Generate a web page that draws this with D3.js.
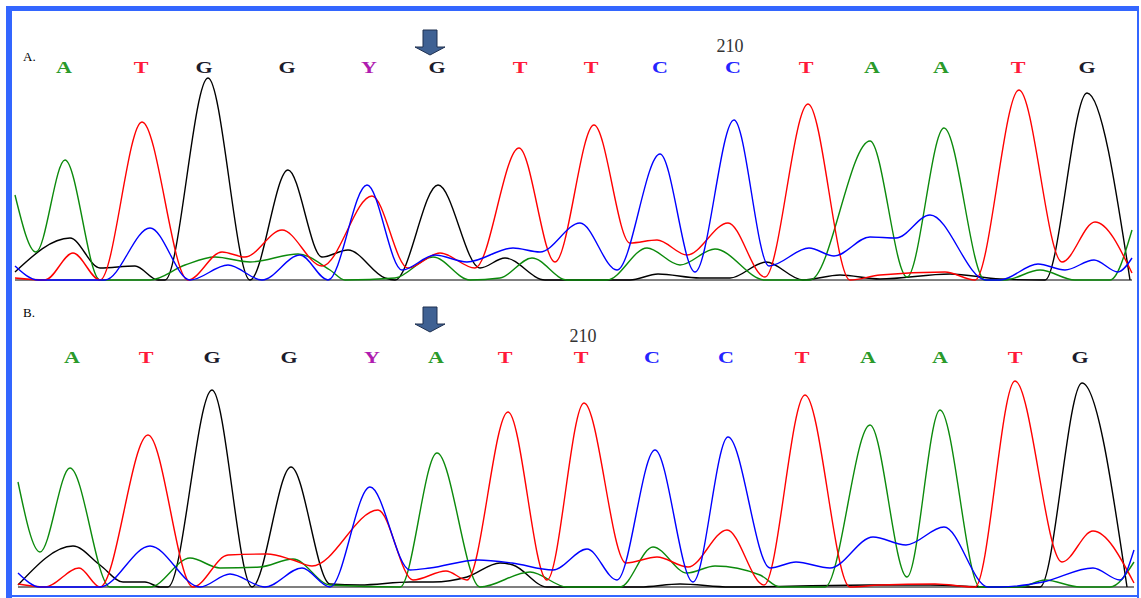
<!DOCTYPE html>
<html>
<head>
<meta charset="utf-8">
<script src="https://cdn.jsdelivr.net/npm/d3@7"></script>
<style>
  body { margin: 0; background: #fff; }
  svg { display: block; }
</style>
</head>
<body>
<div id="chart"></div>
<script>
// Base calls and their scan positions
const basesA = ['A','T','G','G','Y','G','T','T','C','C','T','A','A','T','G'];
const basePosA = [64, 141, 204, 287, 369, 437, 520, 591, 660, 733, 806, 872, 941, 1018, 1087];
const basesB = ['A','T','G','G','Y','A','T','T','C','C','T','A','A','T','G'];
const basePosB = [72, 146, 212, 289, 372, 436, 505, 581, 652, 726, 802, 868, 940, 1015, 1080];
const labelA = 'A.';
const labelB = 'B.';
const posLabel = '210';
const posLabelScanA = 730;
const posLabelScanB = 583;
const markerScan = 430;

// Trace points [scan, intensity] for panel A
const greenA = [[15,85],[36,28],[65,120],[100,0],[150,0],[185,15],[215,23],[250,18],[298,26],[330,10],[345,0],[395,2],[433,23],[470,0],[500,2],[532,22],[567,0],[607,0],[647,32],[680,15],[715,31],[765,0],[810,0],[870,139],[907,3],[944,152],[985,0],[1005,0],[1040,10],[1075,0],[1110,0],[1132,50]];
const redA = [[15,2],[45,0],[73,27],[100,0],[142,158],[188,0],[222,28],[245,23],[282,50],[322,14],[372,84],[408,12],[440,27],[475,12],[519,132],[555,18],[594,155],[630,37],[657,40],[687,25],[728,57],[765,3],[808,176],[850,0],[880,5],[945,8],[975,0],[1019,190],[1062,18],[1095,58],[1132,7]];
const blueA = [[15,14],[38,0],[105,0],[150,52],[190,0],[228,15],[262,0],[300,25],[328,0],[367,95],[402,10],[435,25],[467,18],[513,32],[540,28],[580,57],[617,10],[660,126],[695,8],[734,160],[769,14],[809,32],[834,24],[870,43],[896,42],[930,65],[986,0],[1000,0],[1038,16],[1065,10],[1094,20],[1118,8],[1132,22]];
const blackA = [[15,8],[70,42],[100,12],[135,14],[158,0],[165,0],[208,202],[250,0],[288,110],[322,23],[348,30],[385,2],[395,0],[438,95],[480,12],[505,22],[545,0],[630,0],[658,6],[700,2],[730,2],[766,18],[803,0],[840,5],[880,1],[950,6],[1000,1],[1045,0],[1087,187],[1130,0]];

// Trace points [scan, intensity] for panel B
const greenB = [[18,105],[40,35],[70,119],[110,0],[150,0],[190,29],[220,19],[260,20],[293,28],[330,2],[400,0],[437,134],[480,0],[530,15],[567,0],[620,0],[653,40],[687,14],[715,21],[760,12],[780,0],[825,0],[870,162],[907,10],[940,177],[980,0],[1020,0],[1045,7],[1080,0],[1110,0],[1134,25]];
const redB = [[18,3],[45,0],[79,19],[100,0],[148,152],[193,0],[228,32],[267,33],[293,27],[312,21],[378,77],[413,7],[446,16],[467,7],[508,175],[547,7],[584,184],[626,24],[657,30],[688,20],[727,57],[764,2],[805,192],[850,0],[880,2],[935,3],[975,0],[1015,206],[1062,25],[1093,56],[1134,4]];
const blueB = [[18,14],[40,0],[100,0],[150,41],[200,0],[230,13],[265,0],[302,19],[330,0],[370,100],[410,17],[430,19],[478,27],[512,24],[553,17],[587,38],[617,7],[655,137],[693,5],[728,150],[770,19],[796,25],[830,19],[873,50],[906,42],[944,60],[988,0],[1000,0],[1043,5],[1093,19],[1120,7],[1134,37]];
const blackB = [[18,2],[73,41],[100,22],[123,5],[145,5],[160,0],[168,0],[212,197],[252,0],[291,120],[330,3],[360,2],[410,5],[433,5],[467,10],[500,24],[513,22],[547,0],[640,0],[680,3],[730,0],[870,2],[930,2],[990,0],[1040,0],[1082,204],[1127,0]];

const W = 1141, H = 598;
const svg = d3.select('#chart').append('svg')
    .attr('width', W).attr('height', H);

// Frame
const frame = '#3366ff';
svg.append('rect').attr('x', 6).attr('y', 6).attr('width', 1133).attr('height', 5).attr('fill', frame);
svg.append('rect').attr('x', 6).attr('y', 6).attr('width', 6).attr('height', 592).attr('fill', frame);
svg.append('rect').attr('x', 1137).attr('y', 6).attr('width', 2).attr('height', 592).attr('fill', frame);
svg.append('rect').attr('x', 6).attr('y', 595).attr('width', 1133).attr('height', 2).attr('fill', frame);

const x = d3.scaleLinear().domain([0, W]).range([0, W]);

const traceColors = { green: '#0c8a0c', red: '#ff0000', blue: '#0000ff', black: '#000000' };
const baseColors = { A: '#2a9a2a', T: '#ff1a3a', G: '#1c1c2c', C: '#2424ff', Y: '#b01cb0' };

function drawPanel(cfg) {
    const y = d3.scaleLinear().domain([0, 210]).range([cfg.base, cfg.base - 210]);
    const g = svg.append('g');

    // baseline
    g.append('line')
        .attr('x1', x(cfg.from)).attr('x2', x(cfg.to))
        .attr('y1', y(0)).attr('y2', y(0))
        .attr('stroke', '#555').attr('stroke-width', 1.5);

    const line = d3.line()
        .x(d => x(d[0]))
        .y(d => y(d[1]))
        .curve(d3.curveMonotoneX);

    cfg.traces.forEach(t => {
        g.append('path')
            .datum(t.data)
            .attr('d', line)
            .attr('fill', 'none')
            .attr('stroke', traceColors[t.color])
            .attr('stroke-width', 1.4)
            .attr('stroke-linejoin', 'round');
    });

    // base letters
    g.selectAll('text.base')
        .data(cfg.bases.map((b, i) => ({ b: b, p: cfg.pos[i] })))
        .enter()
        .append('text')
        .attr('class', 'base')
        .attr('transform', d => `translate(${x(d.p)},${cfg.letterY}) scale(1.3,1)`)
        .attr('text-anchor', 'middle')
        .attr('font-family', '"Liberation Serif", "DejaVu Serif", serif')
        .attr('font-weight', 'bold')
        .attr('font-size', 17)
        .attr('fill', d => baseColors[d.b])
        .text(d => d.b);

    // panel label
    g.append('text')
        .attr('x', 23).attr('y', cfg.labelY)
        .attr('font-family', '"Liberation Serif", serif')
        .attr('font-size', 13)
        .attr('fill', '#000')
        .text(cfg.label);

    // position number
    g.append('text')
        .attr('x', x(cfg.numScan)).attr('y', cfg.numY)
        .attr('text-anchor', 'middle')
        .attr('font-family', '"Liberation Serif", serif')
        .attr('font-size', 18)
        .attr('fill', '#333')
        .text(posLabel);

    // arrow marker
    const ax = x(markerScan), top = cfg.arrowTop;
    const pts = [
        [ax - 7, top], [ax + 7, top], [ax + 7, top + 17], [ax + 15, top + 17],
        [ax, top + 25], [ax - 15, top + 17], [ax - 7, top + 17]
    ];
    g.append('polygon')
        .attr('points', pts.map(p => p.join(',')).join(' '))
        .attr('fill', '#3f6193')
        .attr('stroke', '#1e3050')
        .attr('stroke-width', 1);
}

drawPanel({
    base: 280, from: 15, to: 1132,
    traces: [
        { color: 'black', data: blackA },
        { color: 'green', data: greenA },
        { color: 'red', data: redA },
        { color: 'blue', data: blueA }
    ],
    bases: basesA, pos: basePosA, letterY: 73,
    label: labelA, labelY: 61,
    numScan: posLabelScanA, numY: 52,
    arrowTop: 30
});

drawPanel({
    base: 587, from: 18, to: 1134,
    traces: [
        { color: 'black', data: blackB },
        { color: 'green', data: greenB },
        { color: 'red', data: redB },
        { color: 'blue', data: blueB }
    ],
    bases: basesB, pos: basePosB, letterY: 363,
    label: labelB, labelY: 317,
    numScan: posLabelScanB, numY: 342,
    arrowTop: 307
});
</script>
</body>
</html>
